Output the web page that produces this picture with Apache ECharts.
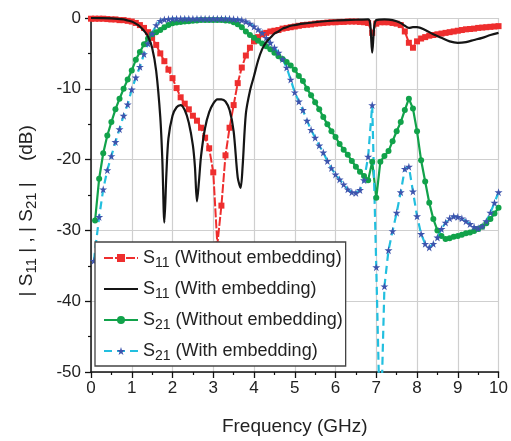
<!DOCTYPE html>
<html><head><meta charset="utf-8">
<script src="https://cdn.jsdelivr.net/npm/echarts@6/dist/echarts.min.js"></script>
<style>html,body{margin:0;padding:0;background:#fff}#c{width:511px;height:441px}</style>
</head><body><div id="c"></div>
<script>
// ---- data (Frequency GHz, dB) ----
const xTicks = [0,1,2,3,4,5,6,7,8,9,10];
const yTicks = [0,-10,-20,-30,-40,-50];
const seriesNames = ['S11 (Without embedding)','S11 (With embedding)','S21 (Without embedding)','S21 (With embedding)'];

const s11Without = [
[0,-0.1],[0.1,-0.1],[0.2,-0.1],[0.3,-0.1],[0.4,-0.15],[0.5,-0.2],[0.6,-0.2],[0.7,-0.3],[0.8,-0.3],[0.9,-0.4],
[1.0,-0.5],[1.1,-0.7],[1.2,-1.0],[1.3,-1.4],[1.4,-2.0],[1.5,-2.8],[1.6,-3.8],[1.7,-5.0],[1.8,-6.1],[1.9,-7.3],
[2.0,-8.5],[2.1,-9.9],[2.2,-11.2],[2.3,-12.1],[2.4,-12.9],[2.5,-13.8],[2.6,-14.5],[2.7,-15.5],[2.8,-16.9],[2.9,-18.4],
[3.0,-21.8],[3.1,-32.0],[3.2,-26.5],[3.3,-19.4],[3.4,-15.5],[3.5,-12.3],[3.6,-9.2],[3.7,-7.0],[3.8,-5.3],[3.9,-4.2],
[4.0,-3.3],[4.1,-2.7],[4.2,-2.3],[4.3,-2.1],[4.4,-1.9],[4.5,-1.8],[4.6,-1.7],[4.7,-1.5],[4.8,-1.4],[4.9,-1.3],
[5.0,-1.2],[5.1,-1.1],[5.2,-1.0],[5.3,-0.95],[5.4,-0.9],[5.5,-0.8],[5.6,-0.75],[5.7,-0.7],[5.8,-0.65],[5.9,-0.6],
[6.0,-0.6],[6.1,-0.55],[6.2,-0.55],[6.3,-0.5],[6.4,-0.5],[6.5,-0.5],[6.6,-0.55],[6.7,-0.6],[6.8,-0.7],[6.9,-2.1],
[7.0,-0.8],[7.1,-0.6],[7.2,-0.6],[7.3,-0.6],[7.4,-0.7],[7.5,-0.8],[7.6,-1.0],[7.7,-1.9],[7.8,-3.5],[7.9,-4.2],
[8.0,-3.3],[8.1,-2.9],[8.2,-2.7],[8.3,-2.5],[8.4,-2.4],[8.5,-2.3],[8.6,-2.2],[8.7,-2.1],[8.8,-2.0],[8.9,-1.9],
[9.0,-1.8],[9.1,-1.7],[9.2,-1.6],[9.3,-1.55],[9.4,-1.5],[9.5,-1.4],[9.6,-1.35],[9.7,-1.3],[9.8,-1.25],[9.9,-1.2],[10.0,-1.15]
];

const s11With = [
[0,0],[0.5,-0.05],[0.8,-0.2],[0.9,-0.35],[1.0,-0.5],[1.1,-0.8],[1.2,-1.2],[1.3,-1.8],[1.4,-2.6],[1.5,-4.2],
[1.6,-7.5],[1.7,-14],[1.75,-20],[1.8,-28.9],[1.85,-22],[1.9,-17],[2.0,-13.8],[2.1,-12.6],[2.2,-12.3],[2.3,-13],
[2.4,-14.8],[2.5,-18],[2.55,-21],[2.6,-25.9],[2.65,-23],[2.7,-19.5],[2.8,-15.5],[2.9,-13.3],[3.0,-12.1],[3.1,-11.5],
[3.2,-11.5],[3.3,-11.8],[3.4,-13],[3.5,-16],[3.6,-22.5],[3.67,-24],[3.72,-21],[3.8,-13.5],[3.9,-10.3],[4.0,-8.2],
[4.1,-6.0],[4.2,-4.4],[4.3,-3.4],[4.4,-2.8],[4.5,-2.2],[4.6,-1.9],[4.7,-1.5],[4.8,-1.3],[4.9,-1.1],[5.0,-1.0],
[5.2,-0.8],[5.5,-0.6],[6.0,-0.35],[6.5,-0.25],[6.8,-0.2],[6.85,-0.8],[6.9,-4.9],[6.95,-1.2],[7.0,-0.3],[7.2,-0.2],
[7.4,-0.3],[7.6,-0.7],[7.7,-1.1],[7.8,-1.4],[7.9,-1.3],[8.0,-1.3],[8.2,-1.7],[8.4,-2.3],[8.6,-2.8],[8.8,-3.3],
[9.0,-3.5],[9.2,-3.4],[9.4,-3.1],[9.6,-2.8],[9.8,-2.4],[10.0,-2.1]
];

const s21Without = [
[0.1,-28.6],[0.2,-22.7],[0.3,-19.1],[0.4,-16.6],[0.5,-14.7],[0.6,-12.9],[0.7,-11.4],[0.8,-10.0],[0.9,-8.7],
[1.0,-7.4],[1.1,-5.9],[1.2,-4.8],[1.3,-3.7],[1.4,-2.9],[1.5,-2.3],[1.6,-2.0],[1.7,-1.7],[1.8,-1.3],[1.9,-1.0],
[2.0,-0.75],[2.1,-0.65],[2.2,-0.55],[2.3,-0.5],[2.4,-0.45],[2.5,-0.4],[2.6,-0.35],[2.7,-0.3],[2.8,-0.3],[2.9,-0.3],
[3.0,-0.3],[3.1,-0.3],[3.2,-0.3],[3.3,-0.35],[3.4,-0.4],[3.5,-0.6],[3.6,-0.9],[3.7,-1.3],[3.8,-1.9],[3.9,-2.4],
[4.0,-2.8],[4.1,-3.2],[4.2,-3.6],[4.3,-4.0],[4.4,-4.4],[4.5,-4.9],[4.6,-5.4],[4.7,-5.8],[4.8,-6.2],[4.9,-6.7],
[5.0,-7.3],[5.1,-8.2],[5.2,-8.9],[5.3,-10.0],[5.4,-10.9],[5.5,-11.9],[5.6,-12.9],[5.7,-14.0],[5.8,-15.0],[5.9,-16.0],
[6.0,-16.8],[6.1,-17.8],[6.2,-18.6],[6.3,-19.3],[6.4,-20.2],[6.5,-21.0],[6.6,-21.7],[6.7,-22.3],[6.8,-22.9],[6.9,-20.3],
[7.0,-25.4],[7.1,-20.3],[7.2,-19.5],[7.3,-18.8],[7.4,-17.4],[7.5,-16.0],[7.6,-14.7],[7.7,-13.0],[7.8,-11.4],[7.9,-12.8],
[8.0,-16.0],[8.1,-20.1],[8.2,-23.1],[8.3,-26.1],[8.4,-28.4],[8.5,-30.0],[8.6,-30.8],[8.7,-31.2],[8.8,-31.1],[8.9,-30.9],
[9.0,-30.8],[9.1,-30.6],[9.2,-30.4],[9.3,-30.3],[9.4,-30.1],[9.5,-29.8],[9.6,-29.5],[9.7,-29.0],[9.8,-28.4],[9.9,-27.6],[10.0,-26.8]
];

const s21With = [
[0.07,-34.3],[0.2,-28.1],[0.3,-24.2],[0.4,-21.5],[0.5,-19.5],[0.6,-17.5],[0.7,-15.7],[0.8,-13.8],[0.9,-12.2],
[1.0,-10.1],[1.1,-8.4],[1.2,-6.9],[1.3,-5.1],[1.4,-3.6],[1.5,-2.2],[1.6,-1.0],[1.7,-0.4],[1.8,-0.2],[1.9,-0.15],
[2.0,-0.1],[2.1,-0.1],[2.2,-0.1],[2.3,-0.1],[2.4,-0.1],[2.5,-0.1],[2.6,-0.1],[2.7,-0.1],[2.8,-0.1],[2.9,-0.1],
[3.0,-0.1],[3.1,-0.1],[3.2,-0.1],[3.3,-0.1],[3.4,-0.1],[3.5,-0.15],[3.6,-0.2],[3.7,-0.3],[3.8,-0.5],[3.9,-0.8],
[4.0,-1.2],[4.1,-1.6],[4.2,-2.1],[4.3,-2.8],[4.4,-3.5],[4.5,-4.2],[4.6,-4.9],[4.7,-5.8],[4.8,-7.0],[4.9,-8.7],
[5.0,-10.5],[5.1,-11.8],[5.2,-13.0],[5.3,-14.5],[5.4,-15.8],[5.5,-16.9],[5.6,-18.0],[5.7,-19.0],[5.8,-20.2],[5.9,-21.2],
[6.0,-22.1],[6.1,-22.8],[6.2,-23.5],[6.3,-24.2],[6.4,-24.6],[6.5,-24.7],[6.6,-24.3],[6.7,-22.9],[6.8,-19.6],[6.9,-12.3],
[7.0,-35.2],[7.1,-60.0],[7.2,-37.9],[7.3,-32.8],[7.4,-30.1],[7.5,-27.5],[7.6,-24.6],[7.7,-21.3],[7.8,-21.0],[7.9,-24.5],
[8.0,-28.0],[8.1,-30.5],[8.2,-31.9],[8.3,-32.4],[8.4,-31.9],[8.5,-31.0],[8.6,-29.8],[8.7,-28.9],[8.8,-28.3],[8.9,-28.0],
[9.0,-28.1],[9.1,-28.3],[9.2,-28.7],[9.3,-29.1],[9.4,-29.5],[9.5,-29.7],[9.6,-29.4],[9.7,-28.7],[9.8,-27.5],[9.9,-26.1],[10.0,-24.6]
];

// ---- chart ----
const FONT = 'Liberation Sans, Arial, sans-serif';
const STAR = 'path://M50,0 L61,35 L98,35 L68,57 L79,91 L50,70 L21,91 L32,57 L2,35 L39,35 Z';
const chart = echarts.init(document.getElementById('c'), null, {renderer:'canvas'});
function richFor(size, lh){
  return {
    sub: {fontSize: Math.round(size*0.78), fontFamily: FONT, color: '#222', padding: [Math.round(size*0.55),0,0,0], lineHeight: lh},
    n: {fontSize: size, fontFamily: FONT, color: '#222', lineHeight: lh}
  };
}
function fmtName(n){ return n.replace(/^S(\d\d)(.*)$/, '{n|S}{sub|$1}{n|$2}'); }

chart.setOption({
  animation: false,
  backgroundColor: '#fff',
  grid: {left: 91, right: 10, top: 18, bottom: 65, containLabel: false},
  xAxis: {
    type: 'value', min: xTicks[0], max: xTicks[xTicks.length-1], interval: 1,
    name: 'Frequency (GHz)', nameLocation: 'middle', nameGap: 45,
    nameTextStyle: {fontSize: 19, fontFamily: FONT, color: '#222'},
    axisLine: {onZero: false, lineStyle: {color: '#111', width: 1.5}},
    axisTick: {show: true, inside: false, length: 6, lineStyle: {color: '#111', width: 1.3}},
    minorTick: {show: true, splitNumber: 2, length: 3, lineStyle: {color: '#111', width: 1.2}},
    axisLabel: {fontSize: 17, fontFamily: FONT, color: '#222', margin: 8},
    splitLine: {show: true, lineStyle: {color: '#cfcfcf', width: 1.2}}
  },
  yAxis: {
    type: 'value', min: yTicks[yTicks.length-1], max: yTicks[0], interval: 10,
    name: '{n|| S}{sub|11}{n| | , | S}{sub|21}{n| |    (dB)      }', nameLocation: 'middle', nameGap: 52, nameRotate: 90,
    nameTextStyle: {fontSize: 19, fontFamily: FONT, color: '#222', rich: richFor(19, 24)},
    axisLine: {onZero: false, lineStyle: {color: '#111', width: 1.5}},
    axisTick: {show: true, inside: false, length: 6, lineStyle: {color: '#111', width: 1.3}},
    minorTick: {show: true, splitNumber: 2, length: 3, lineStyle: {color: '#111', width: 1.2}},
    axisLabel: {fontSize: 17, fontFamily: FONT, color: '#222', margin: 10},
    splitLine: {show: true, lineStyle: {color: '#cfcfcf', width: 1.2}}
  },
  legend: {
    orient: 'vertical', left: 95, top: 242,
    backgroundColor: '#fff', borderColor: '#444', borderWidth: 1.3,
    padding: [4, 3, 3, 8], itemGap: 7, itemWidth: 34, itemHeight: 10,
    data: [
      {name: seriesNames[0]},
      {name: seriesNames[1], itemStyle: {color: 'rgba(0,0,0,0)', opacity: 0}},
      {name: seriesNames[2]},
      {name: seriesNames[3]}
    ],
    formatter: fmtName,
    textStyle: {fontSize: 18, fontFamily: FONT, color: '#222', lineHeight: 24, rich: richFor(18, 24)}
  },
  series: [
    {name: seriesNames[0], type: 'line', data: s11Without, symbol: 'rect', symbolSize: 6,
     itemStyle: {color: '#ee2e2e'}, lineStyle: {color: '#ee2e2e', width: 2, type: [9,2]}, z: 3},
    {name: seriesNames[1], type: 'line', data: s11With, symbol: 'none', smooth: 0.3,
     itemStyle: {color: '#151515'}, lineStyle: {color: '#151515', width: 2.2}, z: 4},
    {name: seriesNames[2], type: 'line', data: s21Without, symbol: 'circle', symbolSize: 6,
     itemStyle: {color: '#11a24a'}, lineStyle: {color: '#11a24a', width: 2.2}, z: 3},
    {name: seriesNames[3], type: 'line', data: s21With, symbol: STAR, symbolSize: 8,
     itemStyle: {color: '#3d54ad'}, lineStyle: {color: '#22bfdf', width: 2.2, type: [8,5]}, z: 3}
  ]
});
</script></body></html>
